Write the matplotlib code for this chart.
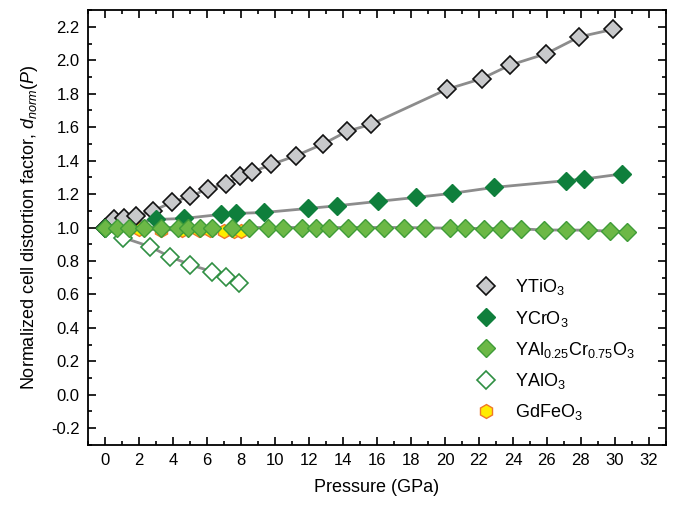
import matplotlib
matplotlib.use("Agg")
import matplotlib.pyplot as plt
from matplotlib.ticker import MultipleLocator

plt.rcParams['font.family'] = ['Liberation Sans', 'DejaVu Sans']
plt.rcParams['mathtext.fontset'] = 'custom'
plt.rcParams['mathtext.rm'] = 'Liberation Sans'
plt.rcParams['mathtext.it'] = 'Liberation Sans:italic'

# YTiO3
p_ti = [0, 0.53, 1.11, 1.82, 2.81, 3.93, 4.98, 6.04, 7.09, 7.97, 8.62, 9.79, 11.25,
        12.84, 14.24, 15.65, 20.1, 22.16, 23.8, 25.97, 27.9, 29.9]
d_ti = [1.0, 1.048, 1.054, 1.066, 1.10, 1.15, 1.186, 1.23, 1.26, 1.305, 1.33, 1.377, 1.43,
        1.50, 1.575, 1.617, 1.826, 1.89, 1.97, 2.04, 2.14, 2.185]
# YCrO3
p_cr = [0, 3.0, 4.63, 6.8, 7.68, 9.38, 11.96, 13.66, 16.06, 18.3, 20.4, 22.9, 27.1, 28.2, 30.4]
d_cr = [1.0, 1.048, 1.054, 1.078, 1.084, 1.09, 1.114, 1.13, 1.156, 1.18, 1.204, 1.24, 1.28, 1.29, 1.32]
# YAl0.25Cr0.75O3
p_alcr = [0, 0.7, 1.4, 2.3, 3.3, 4.3, 4.9, 5.6, 6.3, 7.5, 8.5, 9.6, 10.5, 11.6, 12.4, 13.2,
          14.3, 15.3, 16.4, 17.6, 18.8, 20.3, 21.2, 22.3, 23.3, 24.5, 25.8, 27.1, 28.4, 29.7, 30.7]
d_alcr = [1.0, 1.0, 1.0, 1.0, 1.0, 1.0, 1.0, 1.0, 1.0, 1.0, 1.0, 1.0, 1.0, 1.0, 1.0, 1.0,
          1.0, 1.0, 1.0, 1.0, 0.998, 0.996, 0.995, 0.994, 0.993, 0.992, 0.985, 0.985, 0.984, 0.978, 0.975]
# YAlO3
p_al = [0, 1.06, 2.64, 3.8, 5.0, 6.3, 7.1, 7.9]
d_al = [1.0, 0.94, 0.886, 0.826, 0.778, 0.736, 0.706, 0.67]
# GdFeO3
p_gd = [0, 0.9, 2.0, 3.3, 4.5, 5.5, 6.2, 7.0, 7.6, 8.0]
d_gd = [1.0, 0.995, 0.99, 0.988, 0.985, 0.985, 0.983, 0.982, 0.98, 0.98]

fig = plt.figure(figsize=(6.74, 5.05), dpi=100)
ax = fig.add_axes([0.1306, 0.119, 0.8574, 0.861])

lc = '#8c8c8c'
lw = 2.0
ms = 9

ax.plot(p_gd, d_gd, '-', color=lc, lw=lw, zorder=1)
ax.plot(p_al, d_al, '-', color=lc, lw=lw, zorder=1)
ax.plot(p_ti, d_ti, '-', color=lc, lw=lw, zorder=1)
ax.plot(p_cr, d_cr, '-', color=lc, lw=lw, zorder=1)
ax.plot(p_alcr, d_alcr, '-', color=lc, lw=lw, zorder=1)

ax.plot(p_gd, d_gd, 'h', ls='none', ms=10, mfc='#ffec00', mec='#f07828', mew=1.0,
        label='GdFeO$_3$', zorder=2)
ax.plot(p_al, d_al, 'D', ls='none', ms=ms, mfc='white', mec='#2f8f42', mew=1.2,
        label='YAlO$_3$', zorder=3)
ax.plot(p_ti, d_ti, 'D', ls='none', ms=ms, mfc='#c8c9cb', mec='#111111', mew=1.2,
        label='YTiO$_3$', zorder=3)
ax.plot(p_cr, d_cr, 'D', ls='none', ms=ms, mfc='#0f7f3c', mec='#0f7f3c', mew=1.0,
        label='YCrO$_3$', zorder=4)
ax.plot(p_alcr, d_alcr, 'D', ls='none', ms=ms, mfc='#6cb846', mec='#3f9c38', mew=1.0,
        label='YAl$_{0.25}$Cr$_{0.75}$O$_3$', zorder=5)

ax.set_xlim(-1, 33)
ax.set_ylim(-0.3, 2.3)
ax.xaxis.set_major_locator(MultipleLocator(2))
ax.xaxis.set_minor_locator(MultipleLocator(1))
ax.yaxis.set_major_locator(MultipleLocator(0.2))
ax.yaxis.set_minor_locator(MultipleLocator(0.1))
ax.set_yticks([-0.2, 0.0, 0.2, 0.4, 0.6, 0.8, 1.0, 1.2, 1.4, 1.6, 1.8, 2.0, 2.2])
ax.set_yticklabels(['-0.2', '0.0', '0.2', '0.4', '0.6', '0.8', '1.0', '1.2', '1.4',
                    '1.6', '1.8', '2.0', '2.2'])
ax.tick_params(which='both', direction='in', top=True, right=True, labelsize=12, width=1.2)
ax.tick_params(which='major', length=6, pad=6)
ax.tick_params(which='minor', length=3)
for s in ax.spines.values():
    s.set_linewidth(1.3)

ax.set_xlabel('Pressure (GPa)', fontsize=13, labelpad=8)
ax.set_ylabel(r'Normalized cell distortion factor, $\mathit{d}_{\mathit{norm}}(\mathit{P})$',
              fontsize=13, labelpad=8)

h, l = ax.get_legend_handles_labels()
order = ['YTiO$_3$', 'YCrO$_3$', 'YAl$_{0.25}$Cr$_{0.75}$O$_3$', 'YAlO$_3$', 'GdFeO$_3$']
hh = [h[l.index(o)] for o in order]
ax.legend(hh, order, loc='lower right', bbox_to_anchor=(0.975, 0.015), frameon=False,
          fontsize=13, handletextpad=1.0, labelspacing=0.62, handlelength=1.2)

fig.savefig('out.png', dpi=100)
